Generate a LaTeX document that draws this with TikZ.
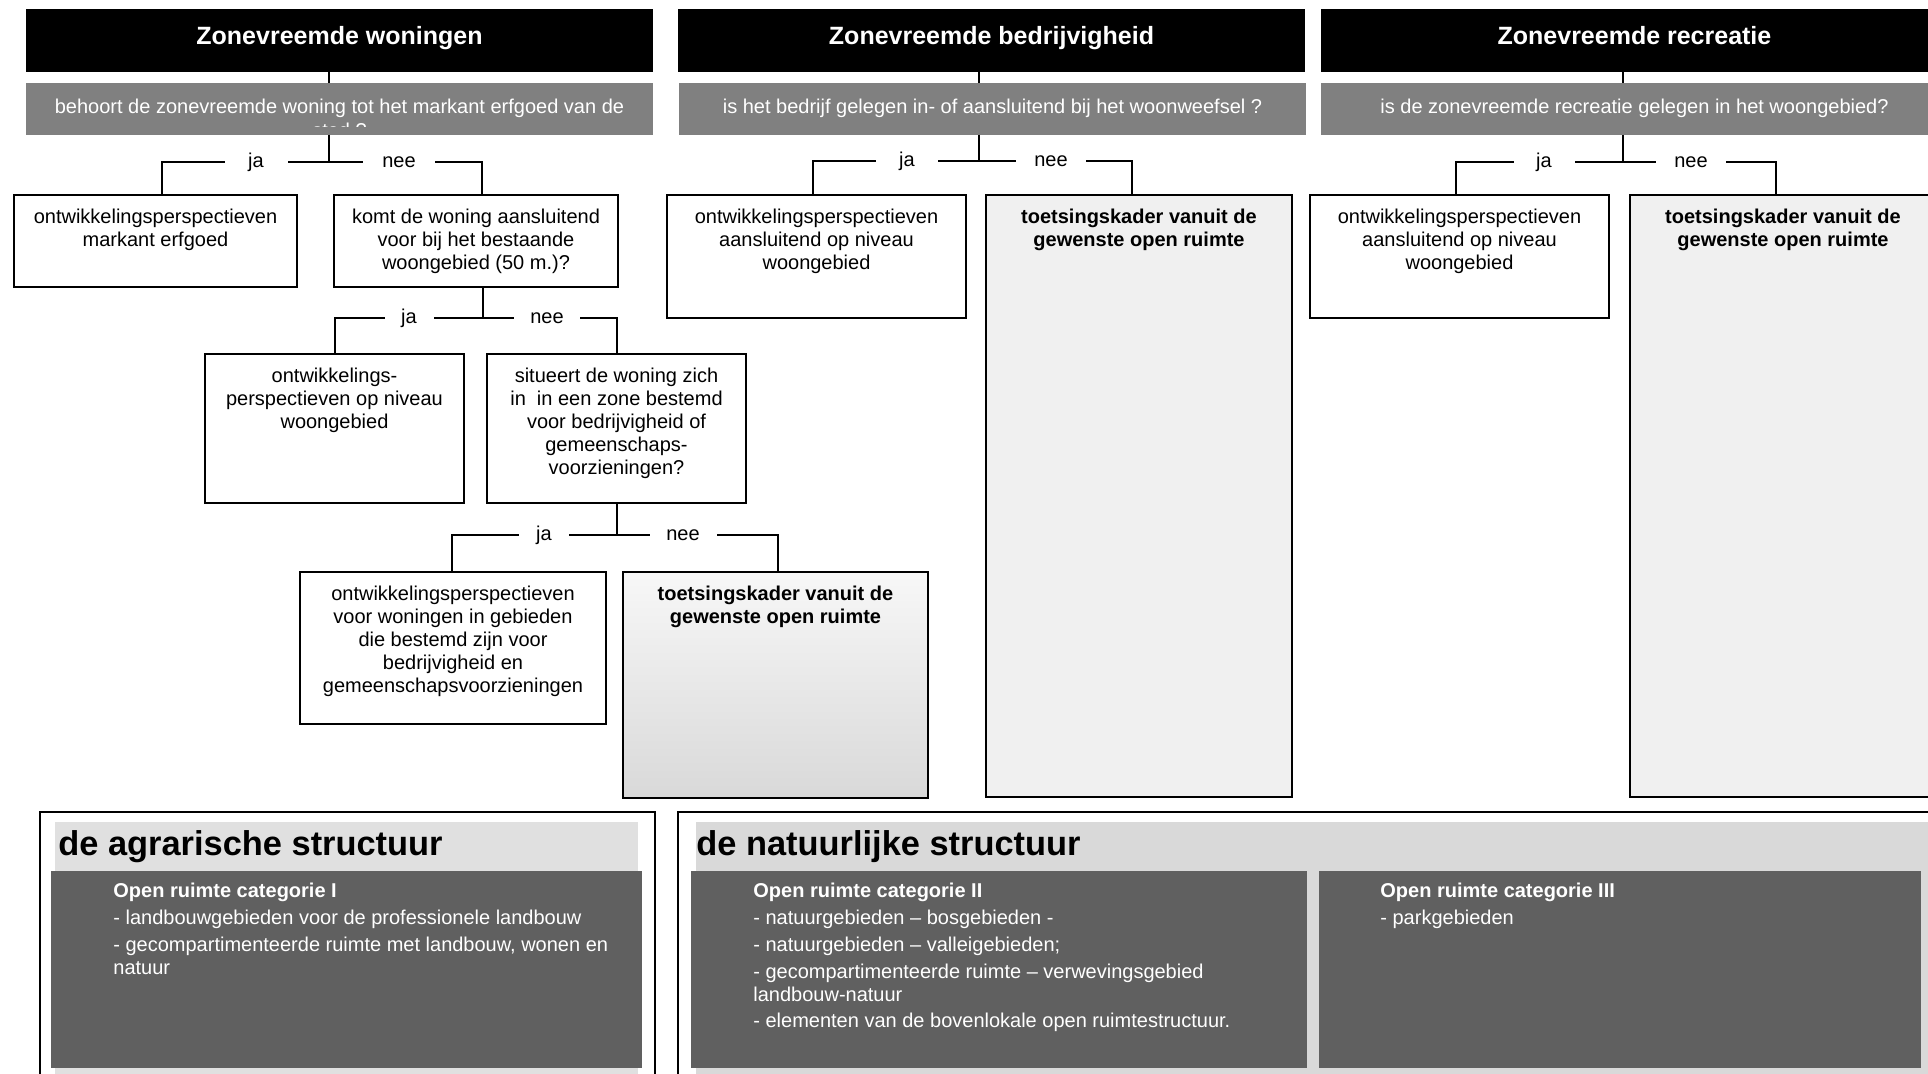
\documentclass[tikz,border=0pt]{standalone}
\usepackage{fontspec}
\setmainfont{Liberation Sans}
\definecolor{qgray}{HTML}{808080}
\definecolor{dgray}{HTML}{606060}
\definecolor{lbandA}{HTML}{E0E0E0}
\definecolor{lbandN}{HTML}{D9D9D9}
\definecolor{tfill}{HTML}{F0F0F0}
\begin{document}
\begin{tikzpicture}[x=0.5pt,y=-0.5pt,
 sz/.style 2 args={minimum width=#1*0.5pt,minimum height=#2*0.5pt},
 basebox/.style={inner sep=0pt,outer sep=0pt,anchor=north west},
 hdr/.style={basebox,fill=black},
 ques/.style={basebox,fill=qgray},
 box/.style={basebox,draw=black,line width=1pt,fill=white},
 tbox/.style={box,fill=tfill},
 hdrtxt/.style={text=white,font=\fontsize{12.5}{15}\selectfont\bfseries,anchor=base,inner sep=0pt},
 qtxt/.style={text=white,font=\fontsize{10}{12}\selectfont,align=center,anchor=north,inner sep=0pt},
 btxt/.style={font=\fontsize{10}{11.5}\selectfont,align=center,anchor=north,inner sep=0pt},
 conn/.style={line width=1pt,draw=black},
 lbl/.style={fill=white,inner xsep=0pt,inner ysep=1pt,font=\fontsize{10}{12}\selectfont,text height=7.2pt,text depth=2pt},
 ttl/.style={font=\fontsize{17.2}{20}\selectfont\bfseries,anchor=base west,inner sep=0pt},
 otxt/.style={text=white,font=\fontsize{10}{11.5}\selectfont,align=left,anchor=north west,inner sep=0pt},
]
\useasboundingbox (0,0) rectangle (1928,1074);
\clip (0,0) rectangle (1928,1074);

% headers
\node[hdr,sz={627}{63}] (h1) at (26,9) {};
\node[hdr,sz={627}{63}] (h2) at (678,9) {};
\node[hdr,sz={627}{63}] (h3) at (1321,9) {};
\node[hdrtxt] (ht1) at (339.5,45) {Zonevreemde woningen};
\node[hdrtxt] (ht2) at (991.5,45) {Zonevreemde bedrijvigheid};
\node[hdrtxt] (ht3) at (1634.5,45) {Zonevreemde recreatie};

% questions
\node[ques,sz={627}{52}] (q1) at (26,83) {};
\node[ques,sz={627}{52}] (q2) at (679,83) {};
\node[ques,sz={627}{52}] (q3) at (1321,83) {};
\begin{scope}
\clip (26,83) rectangle (653,127);
\node[qtxt] (qt1) at (339.5,96) {\strut behoort de zonevreemde woning tot het markant erfgoed van de\\stad ?};
\end{scope}
\node[qtxt] (qt2) at (992.5,96) {\strut is het bedrijf gelegen in- of aansluitend bij het woonweefsel ?};
\node[qtxt] (qt3) at (1634.5,96) {\strut is de zonevreemde recreatie gelegen in het woongebied?};

% boxes
\node[box,sz={283}{92}] (b1) at (14,195) {};
\node[box,sz={284}{92}] (b2) at (334,195) {};
\node[box,sz={299}{123}] (c2a) at (667,195) {};
\node[tbox,sz={306}{602}] (c2b) at (986,195) {};
\node[box,sz={299}{123}] (c3a) at (1310,195) {};
\node[tbox,sz={306}{602}] (c3b) at (1630,195) {};
\node[box,sz={259}{149}] (b3) at (205,354) {};
\node[box,sz={259}{149}] (b4) at (487,354) {};
\node[box,sz={306}{152}] (b5) at (300,572) {};
\node[box,sz={305}{226},top color=black!3,bottom color=black!15] (b6) at (623,572) {};

% box texts
\node[btxt] (tb1) at ([yshift=-6.1pt]b1.north) {\strut ontwikkelingsperspectieven\\markant erfgoed};
\node[btxt] (tb2) at ([yshift=-6.1pt]b2.north) {\strut komt de woning aansluitend\\voor bij het bestaande\\woongebied (50 m.)?};
\node[btxt] (tc2a) at ([yshift=-6.1pt]c2a.north) {\strut ontwikkelingsperspectieven\\aansluitend op niveau\\woongebied};
\node[btxt,font=\fontsize{10}{11.5}\selectfont\bfseries] (tc2b) at ([yshift=-6.1pt]c2b.north) {\strut toetsingskader vanuit de\\gewenste open ruimte};
\node[btxt] (tc3a) at ([yshift=-6.1pt]c3a.north) {\strut ontwikkelingsperspectieven\\aansluitend op niveau\\woongebied};
\node[btxt,font=\fontsize{10}{11.5}\selectfont\bfseries] (tc3b) at ([yshift=-6.1pt]c3b.north) {\strut toetsingskader vanuit de\\gewenste open ruimte};
\node[btxt] (tb3) at ([yshift=-6.1pt]b3.north) {\strut ontwikkelings-\\perspectieven op niveau\\woongebied};
\node[btxt] (tb4) at ([yshift=-6.1pt]b4.north) {\strut situeert de woning zich\\in~\ in een zone bestemd\\voor bedrijvigheid of\\gemeenschaps-\\voorzieningen?};
\node[btxt] (tb5) at ([yshift=-6.1pt]b5.north) {\strut ontwikkelingsperspectieven\\voor woningen in gebieden\\die bestemd zijn voor\\bedrijvigheid en\\gemeenschapsvoorzieningen};
\node[btxt,font=\fontsize{10}{11.5}\selectfont\bfseries] (tb6) at ([yshift=-6.1pt]b6.north) {\strut toetsingskader vanuit de\\gewenste open ruimte};

% junctions
\coordinate (j1) at (329,162);
\coordinate (j2) at (483,318);
\coordinate (j3) at (617,535);
\coordinate (j4) at (979,161);
\coordinate (j5) at (1623,162);

% connectors
\draw[conn] (h1.south -| j1) -- (q1.north -| j1);
\draw[conn] (q1.south -| j1) -- (j1);
\draw[conn] ([xshift=3.25pt]b1.north) |- (j1) -| ([xshift=3pt]b2.north);
\draw[conn] (b2.south -| j2) -- (j2);
\draw[conn] (b3.north) |- (j2) -| (b4.north);
\draw[conn] (b4.south -| j3) -- (j3);
\draw[conn] ([xshift=-0.5pt]b5.north) |- (j3) -| ([xshift=1.25pt]b6.north);
\draw[conn] (h2.south -| j4) -- (q2.north -| j4);
\draw[conn] (q2.south -| j4) -- (j4);
\draw[conn] ([xshift=-1.75pt]c2a.north) |- (j4) -| ([xshift=-3.5pt]c2b.north);
\draw[conn] (h3.south -| j5) -- (q3.north -| j5);
\draw[conn] (q3.south -| j5) -- (j5);
\draw[conn] ([xshift=-1.75pt]c3a.north) |- (j5) -| ([xshift=-3.5pt]c3b.north);

% labels
\node[lbl,minimum width=63*0.5pt] (ja1) at (256,162) {ja};
\node[lbl,minimum width=72*0.5pt] (nee1) at (399,162) {nee};
\node[lbl,minimum width=49*0.5pt] (ja2) at (409,318) {ja};
\node[lbl,minimum width=66*0.5pt] (nee2) at (547,318) {nee};
\node[lbl,minimum width=50*0.5pt] (ja3) at (544,535) {ja};
\node[lbl,minimum width=67*0.5pt] (nee3) at (683,535) {nee};
\node[lbl,minimum width=62*0.5pt] (ja4) at (907,161) {ja};
\node[lbl,minimum width=70*0.5pt] (nee4) at (1051,161) {nee};
\node[lbl,minimum width=61*0.5pt] (ja5) at (1544,162) {ja};
\node[lbl,minimum width=70*0.5pt] (nee5) at (1691,162) {nee};

% bottom: agrarische structuur
\node[box,sz={615}{320}] (oa) at (40,812) {};
\node[basebox,fill=lbandA,sz={583}{290}] (ba) at (55,822) {};
\node[basebox,fill=dgray,sz={591}{197}] (da) at (51,871) {};
\node[ttl] (ta) at (58,855) {de agrarische structuur};
\node[otxt] (xa) at (113,881) {\strut\textbf{Open ruimte categorie I}\\[2pt]- landbouwgebieden voor de professionele landbouw\\[2pt]- gecompartimenteerde ruimte met landbouw, wonen en\\natuur};

% bottom: natuurlijke structuur
\node[box,sz={1320}{320}] (on) at (678,812) {};
\node[basebox,fill=lbandN,sz={1300}{290}] (bn) at (696,822) {};
\node[basebox,fill=dgray,sz={616}{197}] (d2) at (691,871) {};
\node[basebox,fill=dgray,sz={602}{197}] (d3) at (1319,871) {};
\node[ttl] (tn) at (696,855) {de natuurlijke structuur};
\node[otxt] (x2) at (753,881) {\strut\textbf{Open ruimte categorie II}\\[2pt]- natuurgebieden – bosgebieden -\\[2pt]- natuurgebieden – valleigebieden;\\[2pt]- gecompartimenteerde ruimte – verwevingsgebied\\landbouw-natuur\\[1.5pt]- elementen van de bovenlokale open ruimtestructuur.};
\node[otxt] (x3) at (1380,881) {\strut\textbf{Open ruimte categorie III}\\[2pt]- parkgebieden};
\end{tikzpicture}
\end{document}
